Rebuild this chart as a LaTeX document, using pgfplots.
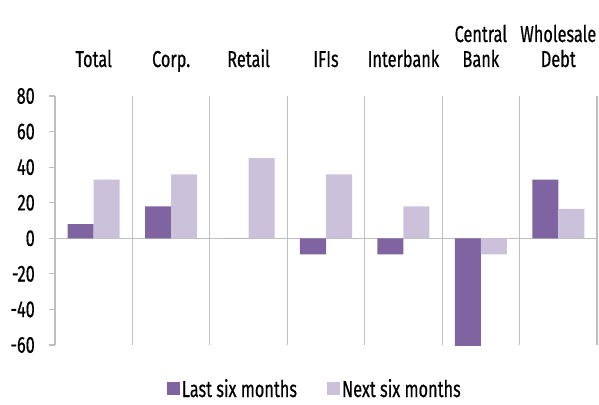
\documentclass[border=0pt]{standalone}
\usepackage{pgfplots}
\pgfplotsset{compat=1.18}
\usepackage{fontspec}
\setmainfont{Fira Sans}[FakeStretch=0.71, FakeBold=0.5]
\definecolor{dark}{HTML}{8064A2}
\definecolor{light}{HTML}{CCC1DA}
\definecolor{lgray}{HTML}{BFBFBF}
\begin{document}
\begin{tikzpicture}
\begin{axis}[
  scale only axis, width=542pt, height=249pt,
  ybar=0pt, bar width=0.336,
  xmin=-0.5, xmax=6.5, ymin=-60, ymax=80,
  axis x line*=top, axis y line*=left,
  x axis line style={draw=none},
  y axis line style={lgray, line width=1.2pt},
  xtick={0,...,6},
  xticklabels={Total,Corp.,Retail,IFIs,Interbank,{Central\\Bank},{Wholesale\\Debt}},
  major x tick style={draw=none},
  minor xtick={0.5,1.5,...,6.5},
  minor tick length=0pt,
  xminorgrids=true,
  minor x grid style={lgray, line width=1.2pt},
  xticklabel style={font=\fontsize{23}{25}\selectfont, align=center, anchor=south, text depth=0pt, inner sep=0pt, outer sep=0pt, yshift=23pt},
  ytick={-60,-40,...,80},
  tick align=outside,
  major tick length=6pt,
  major y tick style={lgray, line width=1.2pt},
  yticklabel style={font=\fontsize{23}{25}\selectfont, anchor=east, inner sep=0pt, xshift=-14pt},
  /pgf/number format/assume math mode=true,
  extra y ticks={0}, extra y tick labels={},
  extra y tick style={grid=major, major grid style={lgray, line width=1.2pt}, major tick length=0pt},
  legend columns=2,
  legend style={at={(0.206,-0.128)}, anchor=north west, draw=none, fill=none,
    font=\fontsize{23}{25}\selectfont, inner sep=0pt,
    /tikz/every even column/.append style={column sep=28pt}},
]
\addplot[fill=dark, draw=none, legend image code/.code={\fill[dark] (0pt,-6.5pt) rectangle (13pt,6.5pt);}]
  coordinates {(0,8) (1,18) (2,0) (3,-9) (4,-9) (5,-61) (6,33)};
\addplot[fill=light, draw=none, legend image code/.code={\fill[light] (0pt,-6.5pt) rectangle (13pt,6.5pt);}]
  coordinates {(0,33) (1,36) (2,45) (3,36) (4,18) (5,-9) (6,16.5)};
\legend{Last six months, Next six months}
\coordinate (bl) at (rel axis cs:0,0);
\coordinate (tr) at (rel axis cs:1,1);
\end{axis}
\pgfresetboundingbox
\path[use as bounding box] ([xshift=-55pt,yshift=-59pt]bl) rectangle ([xshift=2pt,yshift=96pt]tr);
\end{tikzpicture}
\end{document}
